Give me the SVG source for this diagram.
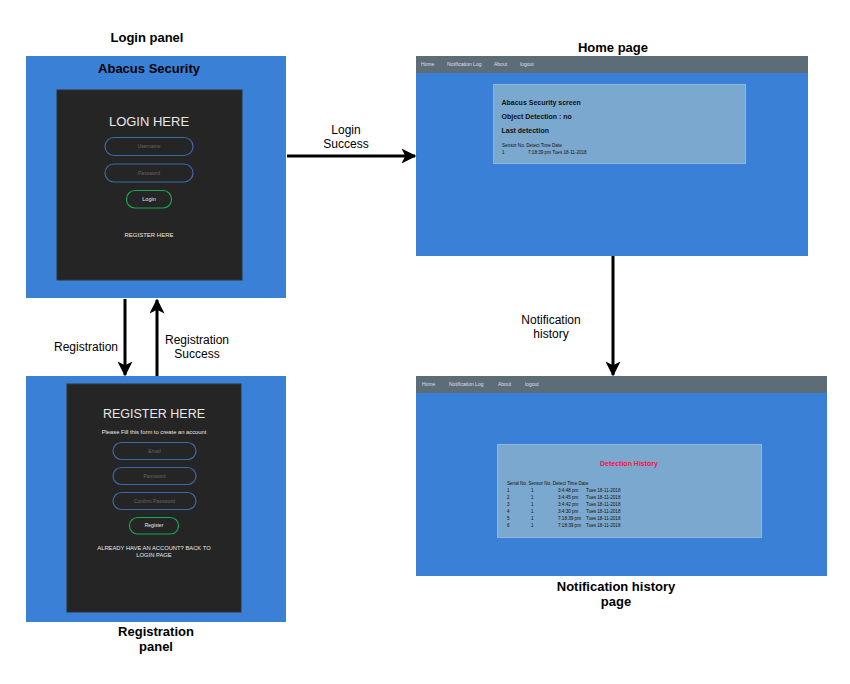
<svg xmlns="http://www.w3.org/2000/svg" width="850" height="684" viewBox="0 0 850 684">
<style>
text{font-family:"Liberation Sans",Arial,sans-serif}
.title{font-size:13px;font-weight:bold;fill:#000;text-anchor:middle}
.lbl{font-size:12px;fill:#000;text-anchor:middle}
.panel{fill:#3a80d6}
.dark{fill:#252525;stroke:#333;stroke-width:1}
.pill{fill:none;stroke:#3d6aa8;stroke-width:1.2}
.btn{fill:none;stroke:#1aa653;stroke-width:1.2}
.ph{font-size:5px;fill:#666;text-anchor:middle}
.wt{fill:#e8e8e8;text-anchor:middle}
.nav{fill:#5d6d78}
.navt{font-size:5px;fill:#dde}
.card{fill:#7ba8cf;stroke:#8fb4db;stroke-width:1}
.ct{font-size:7px;font-weight:bold;fill:#111}
.st{font-size:4.6px;fill:#111}
.conn{stroke:#000;stroke-width:3;fill:none;marker-end:url(#arr)}
</style>
<defs>
<marker id="arr" viewBox="0 0 10 10" refX="9" refY="5" markerWidth="5" markerHeight="5" orient="auto" markerUnits="strokeWidth">
<path d="M0,0 L10,5 L0,10 L2.5,5 Z" fill="#000"/>
</marker>
</defs>
<rect width="850" height="684" fill="#fff"/>

<g id="login-panel">
<text class="title" x="147" y="42">Login panel</text>
<rect class="panel" x="26" y="56" width="260" height="242"/>
<text class="title" x="149" y="73">Abacus Security</text>
<rect class="dark" x="57" y="90" width="185" height="190"/>
<text class="wt" x="149" y="126" font-size="13">LOGIN HERE</text>
<rect class="pill" x="105" y="137.5" width="88" height="18" rx="9"/>
<text class="ph" x="149" y="148">Username</text>
<rect class="pill" x="105" y="164" width="88" height="18" rx="9"/>
<text class="ph" x="149" y="175">Password</text>
<rect class="btn" x="126.5" y="190.5" width="45" height="17.5" rx="8.5"/>
<text class="wt" x="149" y="201" font-size="5.5">Login</text>
<text class="wt" x="149" y="237" font-size="6">REGISTER HERE</text>
</g>

<g id="home-page">
<text class="title" x="613" y="52">Home page</text>
<rect class="panel" x="416" y="56" width="392" height="200"/>
<rect class="nav" x="416" y="56" width="392" height="17"/>
<text class="navt" x="421" y="65.5">Home</text>
<text class="navt" x="447" y="65.5">Notification Log</text>
<text class="navt" x="494" y="65.5">About</text>
<text class="navt" x="520" y="65.5">logout</text>
<rect class="card" x="493.5" y="84.5" width="252" height="79"/>
<text class="ct" x="501.5" y="104.5">Abacus Security screen</text>
<text class="ct" x="501.5" y="119">Object Detection : no</text>
<text class="ct" x="501.5" y="133">Last detection</text>
<text class="st" x="502" y="147">Sensor No. Detect Time Date</text>
<text class="st" x="502" y="154">1</text>
<text class="st" x="528" y="154">7:18:39 pm  Tues 18-11-2018</text>
</g>

<g id="registration-panel">
<rect class="panel" x="26" y="376" width="260" height="246"/>
<rect class="dark" x="67" y="384" width="174" height="228"/>
<text class="wt" x="154" y="418" font-size="12.5">REGISTER HERE</text>
<text class="wt" x="154" y="434" font-size="5.8">Please Fill this form to create an account</text>
<rect class="pill" x="113" y="442.5" width="83" height="17" rx="8.5"/>
<text class="ph" x="154.5" y="452.5">Email</text>
<rect class="pill" x="113" y="467.5" width="83" height="17" rx="8.5"/>
<text class="ph" x="154.5" y="477.5">Password</text>
<rect class="pill" x="113" y="492.5" width="83" height="17" rx="8.5"/>
<text class="ph" x="154.5" y="502.5">Confirm Password</text>
<rect class="btn" x="129.5" y="517.5" width="49" height="16.5" rx="8"/>
<text class="wt" x="154" y="527" font-size="5">Register</text>
<text class="wt" x="154" y="550" font-size="5.8">ALREADY HAVE AN ACCOUNT? BACK TO</text>
<text class="wt" x="154" y="557" font-size="5.8">LOGIN PAGE</text>
<text class="title" x="156" y="636">Registration</text>
<text class="title" x="156" y="651">panel</text>
</g>

<g id="notification-history-page">
<rect class="panel" x="416" y="376" width="411" height="200"/>
<rect class="nav" x="416" y="376" width="411" height="17"/>
<text class="navt" x="422" y="385.5">Home</text>
<text class="navt" x="449" y="385.5">Notification Log</text>
<text class="navt" x="498" y="385.5">About</text>
<text class="navt" x="525" y="385.5">logout</text>
<rect class="card" x="497.5" y="444.5" width="264" height="93"/>
<text x="629" y="465.5" font-size="7" font-weight="bold" fill="#e8203a" text-anchor="middle">Detection History</text>
<g class="st">
<text class="st" x="507" y="485">Serial No. Sensor No. Detect Time Date</text>
<text class="st" x="507" y="492">1</text><text class="st" x="531" y="492">1</text><text class="st" x="558" y="492">3:4:48 pm</text><text class="st" x="586" y="492">Tues 18-11-2018</text>
<text class="st" x="507" y="499">2</text><text class="st" x="531" y="499">1</text><text class="st" x="558" y="499">3:4:45 pm</text><text class="st" x="586" y="499">Tues 18-11-2018</text>
<text class="st" x="507" y="506">3</text><text class="st" x="531" y="506">1</text><text class="st" x="558" y="506">3:4:42 pm</text><text class="st" x="586" y="506">Tues 18-11-2018</text>
<text class="st" x="507" y="513">4</text><text class="st" x="531" y="513">1</text><text class="st" x="558" y="513">3:4:30 pm</text><text class="st" x="586" y="513">Tues 18-11-2018</text>
<text class="st" x="507" y="520">5</text><text class="st" x="531" y="520">1</text><text class="st" x="558" y="520">7:18:39 pm</text><text class="st" x="586" y="520">Tues 18-11-2018</text>
<text class="st" x="507" y="527">6</text><text class="st" x="531" y="527">1</text><text class="st" x="558" y="527">7:18:39 pm</text><text class="st" x="586" y="527">Tues 18-11-2018</text>
</g>
<text class="title" x="616" y="591">Notification history</text>
<text class="title" x="616" y="606">page</text>
</g>

<g id="connectors">
<line class="conn" x1="287" y1="156" x2="415" y2="156"/>
<text class="lbl" x="346" y="134">Login</text>
<text class="lbl" x="346" y="148">Success</text>
<line class="conn" x1="125" y1="299" x2="125" y2="375"/>
<text class="lbl" x="86" y="351">Registration</text>
<line class="conn" x1="157" y1="376" x2="157" y2="300"/>
<text class="lbl" x="197" y="344">Registration</text>
<text class="lbl" x="197" y="358">Success</text>
<line class="conn" x1="613" y1="256" x2="613" y2="375"/>
<text class="lbl" x="551" y="324">Notification</text>
<text class="lbl" x="551" y="338">history</text>
</g>
</svg>
